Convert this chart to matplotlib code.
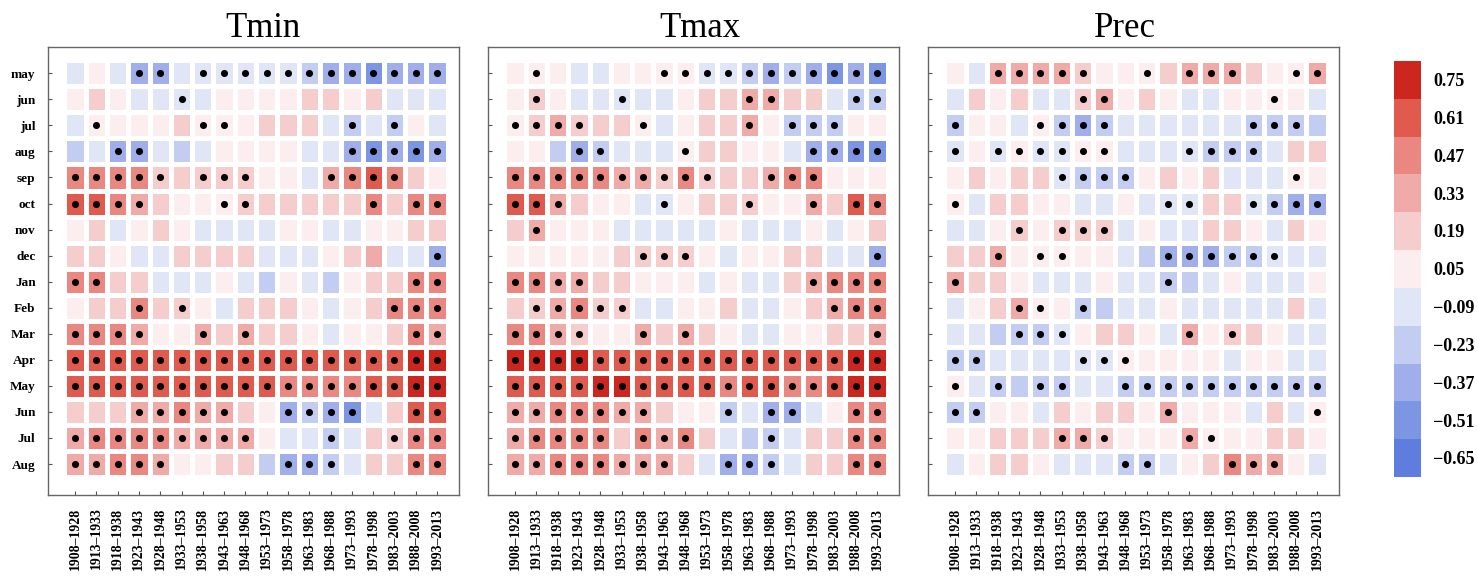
import numpy as np
import matplotlib
matplotlib.use('Agg')
import matplotlib.pyplot as plt
from matplotlib.colors import ListedColormap, BoundaryNorm
from matplotlib.cm import ScalarMappable

months = ['may', 'jun', 'jul', 'aug', 'sep', 'oct', 'nov', 'dec',
          'Jan', 'Feb', 'Mar', 'Apr', 'May', 'Jun', 'Jul', 'Aug']
periods = ['1908–1928', '1913–1933', '1918–1938', '1923–1943', '1928–1948', '1933–1953',
           '1938–1958', '1943–1963', '1948–1968', '1953–1973', '1958–1978', '1963–1983',
           '1968–1988', '1973–1993', '1978–1998', '1983–2003', '1988–2008', '1993–2013']
levels = [-0.65, -0.51, -0.37, -0.23, -0.09, 0.05, 0.19, 0.33, 0.47, 0.61, 0.75]
level_colours = ['#5f7dde', '#7d96e4', '#a0afeb', '#c3cdf2', '#e1e6f6', '#fceeee',
                 '#f6cdcd', '#f0aaa8', '#ea8780', '#e15a4e', '#cd261e']

# correlation values, rows = months (may..Aug), cols = 21-yr windows
tmin = [
    [-0.05, 0.0, -0.09, -0.33, -0.33, -0.09, -0.05, -0.05, -0.09, -0.05, -0.15, -0.2, -0.33, -0.33, -0.45, -0.4, -0.33, -0.35],
    [0.0, 0.19, 0.06, -0.09, -0.12, -0.05, -0.12, 0.02, 0.03, 0.06, 0.08, 0.2, 0.19, 0.1, 0.25, -0.09, -0.09, -0.1],
    [-0.07, 0.1, 0.06, 0.02, 0.08, 0.14, 0.0, 0.03, 0.1, 0.19, 0.17, 0.15, -0.07, -0.25, -0.15, -0.25, 0.0, -0.06],
    [-0.2, -0.08, -0.33, -0.33, -0.12, -0.2, -0.12, 0.02, 0.02, 0.1, 0.08, -0.05, -0.09, -0.33, -0.5, -0.4, -0.52, -0.38],
    [0.45, 0.45, 0.45, 0.42, 0.25, 0.15, 0.22, 0.2, 0.2, 0.08, 0.02, -0.05, 0.3, 0.45, 0.58, 0.42, 0.15, 0.06],
    [0.6, 0.62, 0.45, 0.35, 0.15, 0.02, 0.06, 0.08, 0.2, 0.15, 0.18, 0.25, 0.2, 0.25, 0.45, 0.25, 0.45, 0.45],
    [0.06, 0.15, -0.06, 0.06, 0.2, 0.05, -0.15, -0.15, -0.15, -0.1, 0.0, 0.1, -0.1, -0.07, 0.06, 0.0, 0.15, 0.25],
    [0.2, 0.25, 0.02, -0.04, -0.08, 0.19, 0.19, 0.2, 0.15, -0.05, -0.08, -0.05, 0.05, 0.2, 0.3, -0.08, -0.12, -0.4],
    [0.42, 0.42, 0.25, 0.12, -0.05, -0.12, -0.1, 0.0, -0.09, -0.18, 0.0, -0.09, -0.2, 0.04, 0.2, 0.2, 0.45, 0.45],
    [0.0, 0.15, 0.22, 0.45, 0.15, 0.2, 0.0, -0.06, 0.12, 0.12, 0.2, 0.0, -0.06, 0.04, 0.12, 0.42, 0.45, 0.45],
    [0.42, 0.42, 0.42, 0.38, 0.0, 0.04, 0.38, 0.15, 0.28, 0.15, 0.12, 0.02, -0.05, 0.0, 0.0, 0.15, 0.42, 0.38],
    [0.6, 0.58, 0.6, 0.6, 0.56, 0.56, 0.56, 0.56, 0.56, 0.56, 0.56, 0.56, 0.56, 0.6, 0.6, 0.6, 0.72, 0.7],
    [0.56, 0.58, 0.58, 0.58, 0.62, 0.62, 0.6, 0.58, 0.56, 0.56, 0.45, 0.45, 0.45, 0.45, 0.58, 0.6, 0.75, 0.78],
    [0.15, 0.15, 0.2, 0.35, 0.35, 0.45, 0.38, 0.38, 0.15, 0.0, -0.38, -0.2, -0.33, -0.48, -0.05, 0.12, 0.58, 0.58],
    [0.38, 0.45, 0.5, 0.5, 0.42, 0.38, 0.38, 0.36, 0.36, 0.08, -0.09, -0.15, -0.22, -0.04, 0.15, 0.2, 0.5, 0.5],
    [0.36, 0.36, 0.42, 0.42, 0.3, 0.06, 0.04, 0.15, 0.15, -0.17, -0.42, -0.33, -0.22, -0.05, 0.15, 0.12, 0.45, 0.45],
]
tmax = [
    [0.05, 0.1, 0.02, -0.15, -0.12, 0.02, 0.04, 0.05, 0.0, -0.08, -0.15, -0.2, -0.33, -0.25, -0.42, -0.48, -0.36, -0.52],
    [0.06, 0.25, 0.05, -0.09, -0.04, -0.06, -0.12, -0.1, 0.0, 0.15, 0.15, 0.35, 0.32, 0.12, 0.2, -0.08, -0.25, -0.25],
    [0.06, 0.2, 0.3, 0.25, 0.15, 0.15, 0.03, -0.07, 0.0, 0.15, 0.15, 0.28, 0.05, -0.25, -0.2, -0.2, 0.0, 0.1],
    [0.02, 0.02, -0.2, -0.33, -0.2, -0.15, -0.15, -0.12, 0.1, 0.18, 0.15, 0.06, 0.0, -0.15, -0.36, -0.33, -0.48, -0.45],
    [0.45, 0.45, 0.42, 0.42, 0.42, 0.35, 0.35, 0.25, 0.45, 0.2, 0.15, 0.15, 0.35, 0.42, 0.42, 0.08, 0.02, 0.02],
    [0.6, 0.62, 0.35, 0.25, 0.02, 0.0, -0.06, -0.09, 0.08, 0.12, 0.2, 0.25, 0.1, 0.06, 0.35, 0.25, 0.56, 0.5],
    [0.25, 0.3, 0.04, 0.03, 0.06, -0.07, -0.1, -0.12, -0.15, -0.07, 0.0, -0.06, -0.08, -0.06, 0.03, -0.06, 0.06, 0.2],
    [0.06, 0.07, 0.03, 0.02, 0.02, 0.2, 0.25, 0.25, 0.15, 0.0, -0.04, 0.03, 0.08, 0.15, 0.2, -0.08, -0.15, -0.38],
    [0.42, 0.42, 0.35, 0.3, 0.15, 0.15, 0.08, 0.1, 0.02, -0.12, 0.04, -0.06, -0.09, 0.12, 0.35, 0.42, 0.45, 0.5],
    [0.15, 0.25, 0.3, 0.45, 0.25, 0.25, -0.06, -0.1, 0.02, 0.04, 0.12, -0.09, -0.09, 0.02, 0.12, 0.35, 0.42, 0.45],
    [0.42, 0.42, 0.35, 0.25, 0.0, 0.02, 0.35, 0.15, 0.3, 0.12, 0.1, -0.05, -0.1, 0.0, 0.02, 0.15, 0.18, 0.35],
    [0.75, 0.7, 0.75, 0.75, 0.6, 0.6, 0.6, 0.6, 0.6, 0.6, 0.6, 0.6, 0.6, 0.65, 0.6, 0.6, 0.7, 0.75],
    [0.6, 0.6, 0.65, 0.6, 0.75, 0.75, 0.6, 0.6, 0.6, 0.6, 0.5, 0.56, 0.6, 0.5, 0.5, 0.6, 0.7, 0.78],
    [0.3, 0.35, 0.42, 0.45, 0.45, 0.35, 0.35, 0.15, 0.02, 0.06, -0.25, -0.15, -0.33, -0.42, -0.15, 0.02, 0.45, 0.45],
    [0.35, 0.42, 0.42, 0.42, 0.42, 0.2, 0.42, 0.35, 0.42, 0.15, -0.08, -0.18, -0.25, -0.04, 0.15, 0.18, 0.45, 0.45],
    [0.36, 0.36, 0.42, 0.42, 0.42, 0.36, 0.36, 0.36, 0.15, -0.15, -0.42, -0.36, -0.22, -0.06, 0.15, 0.12, 0.45, 0.45],
]
prec = [
    [0.0, -0.07, 0.35, 0.35, 0.35, 0.3, 0.12, 0.08, 0.06, 0.05, 0.12, 0.28, 0.35, 0.3, 0.12, 0.06, 0.08, 0.3],
    [-0.15, 0.15, 0.1, 0.2, -0.06, -0.03, 0.2, 0.28, 0.06, 0.12, 0.0, -0.04, -0.1, 0.05, 0.04, 0.0, 0.08, -0.12],
    [-0.22, 0.06, 0.02, -0.05, 0.0, -0.18, -0.33, -0.2, -0.15, -0.09, -0.09, -0.1, -0.07, -0.03, -0.18, -0.2, -0.18, -0.2],
    [-0.15, 0.0, -0.06, 0.0, -0.04, -0.06, 0.02, 0.05, -0.15, -0.1, -0.15, -0.15, -0.18, -0.22, -0.18, -0.07, 0.12, 0.2],
    [0.08, 0.12, 0.06, 0.2, 0.2, -0.07, -0.2, -0.2, -0.25, 0.0, 0.2, 0.1, 0.18, -0.05, -0.06, -0.06, 0.05, 0.04],
    [0.0, -0.08, 0.12, 0.15, 0.06, 0.04, -0.08, -0.06, 0.0, -0.15, -0.15, -0.1, 0.15, 0.12, -0.1, -0.2, -0.35, -0.35],
    [-0.15, -0.12, 0.02, 0.2, 0.06, 0.12, 0.25, 0.15, -0.04, -0.02, -0.12, -0.08, 0.2, 0.2, 0.08, -0.07, 0.12, 0.08],
    [0.22, 0.2, 0.3, 0.08, 0.0, 0.02, 0.0, 0.02, -0.04, -0.2, -0.33, -0.36, -0.33, -0.2, -0.2, -0.15, -0.12, -0.06],
    [0.35, 0.2, 0.15, 0.0, -0.12, -0.1, -0.06, 0.06, -0.12, -0.15, -0.3, -0.18, -0.15, 0.0, -0.15, -0.15, -0.08, 0.02],
    [-0.06, 0.08, 0.2, 0.3, 0.0, 0.0, -0.3, -0.18, -0.07, -0.07, -0.02, -0.12, -0.12, -0.08, -0.08, -0.06, 0.2, -0.09],
    [-0.07, -0.12, -0.2, -0.2, -0.25, -0.1, 0.1, 0.18, 0.2, 0.06, -0.03, 0.28, 0.07, 0.15, 0.2, 0.03, -0.05, -0.07],
    [-0.3, -0.25, -0.12, -0.12, -0.12, -0.12, -0.15, -0.15, 0.04, 0.05, 0.02, 0.0, -0.02, -0.04, 0.0, 0.0, -0.04, -0.07],
    [0.02, -0.06, -0.3, -0.2, -0.25, -0.3, -0.15, -0.15, -0.3, -0.25, -0.25, -0.3, -0.3, -0.25, -0.2, -0.25, -0.25, -0.3],
    [-0.3, -0.25, -0.02, 0.0, -0.05, 0.12, 0.1, 0.2, 0.22, 0.08, 0.35, 0.06, 0.07, 0.08, -0.09, 0.12, -0.09, 0.1],
    [0.02, 0.05, 0.15, 0.18, 0.12, 0.3, 0.3, 0.15, 0.06, 0.02, 0.05, 0.28, 0.1, 0.0, 0.1, 0.12, 0.12, 0.06],
    [-0.06, 0.05, 0.22, 0.22, 0.06, -0.05, -0.1, -0.1, -0.25, -0.2, -0.15, 0.0, 0.15, 0.4, 0.3, 0.28, 0.02, -0.1],
]

# significance markers (1 = dot)
tmin_sig = [
    [0,0,0,1,1,0,1,1,1,1,1,1,1,1,1,1,1,1],
    [0,0,0,0,0,1,0,0,0,0,0,0,0,0,0,0,0,0],
    [0,1,0,0,0,0,1,1,0,0,0,0,0,1,0,1,0,0],
    [0,0,1,1,0,0,0,0,0,0,0,0,0,1,1,1,1,1],
    [1,1,1,1,1,0,1,1,1,0,0,0,1,1,1,1,0,0],
    [1,1,1,1,0,0,0,1,1,0,0,0,0,0,1,0,1,1],
    [0,0,0,0,0,0,0,0,0,0,0,0,0,0,0,0,0,0],
    [0,0,0,0,0,0,0,0,0,0,0,0,0,0,0,0,0,1],
    [1,1,0,0,0,0,0,0,0,0,0,0,0,0,0,0,1,1],
    [0,0,0,1,0,1,0,0,0,0,0,0,0,0,0,1,1,1],
    [1,1,1,1,0,0,1,0,1,0,0,0,0,0,0,0,1,1],
    [1,1,1,1,1,1,1,1,1,1,1,1,1,1,1,1,1,1],
    [1,1,1,1,1,1,1,1,1,1,1,1,1,1,1,1,1,1],
    [0,0,0,1,1,1,1,1,0,0,1,1,1,1,0,0,1,1],
    [1,1,1,1,1,1,1,1,1,0,0,0,1,0,0,1,1,1],
    [1,1,1,1,1,0,0,0,0,0,1,1,1,0,0,0,1,1],
]
tmax_sig = [
    [0,1,0,0,0,0,0,1,1,1,1,1,1,1,1,1,1,1],
    [0,1,0,0,0,1,0,0,0,0,0,1,1,0,0,0,1,1],
    [1,1,1,1,0,0,1,0,0,0,0,1,0,1,1,1,0,0],
    [0,0,0,1,1,0,0,0,1,0,0,0,0,0,1,1,1,1],
    [1,1,1,1,1,1,1,1,1,1,0,0,1,1,1,0,0,0],
    [1,1,1,0,0,0,0,1,0,0,0,1,0,0,1,0,1,1],
    [0,1,0,0,0,0,0,0,0,0,0,0,0,0,0,0,0,0],
    [0,0,0,0,0,0,1,1,1,0,0,0,0,0,0,0,0,1],
    [1,1,1,1,0,0,0,0,0,0,0,0,0,0,1,1,1,1],
    [0,1,1,1,1,1,0,0,0,0,0,0,0,0,0,1,1,1],
    [1,1,1,1,0,0,1,0,1,0,0,0,0,0,0,0,0,1],
    [1,1,1,1,1,1,1,1,1,1,1,1,1,1,1,1,1,1],
    [1,1,1,1,1,1,1,1,1,1,1,1,1,1,1,1,1,1],
    [1,1,1,1,1,1,1,0,0,0,1,0,1,1,0,0,1,1],
    [1,1,1,1,1,0,1,1,1,0,0,0,1,0,0,0,1,1],
    [1,1,1,1,1,1,1,1,0,0,1,1,1,0,0,0,1,1],
]
prec_sig = [
    [0,0,1,1,1,1,1,0,0,1,0,1,1,1,0,0,1,1],
    [0,0,0,0,0,0,1,1,0,0,0,0,0,0,0,1,0,0],
    [1,0,0,0,1,1,1,1,0,0,0,0,0,0,1,1,1,0],
    [1,0,1,1,1,1,1,1,0,0,0,1,1,1,1,0,0,0],
    [0,0,0,0,0,1,1,1,1,0,0,0,0,0,0,0,1,0],
    [1,0,0,0,0,0,0,0,0,0,1,1,0,0,1,1,1,1],
    [0,0,0,1,0,1,1,1,0,0,0,0,0,0,0,0,0,0],
    [0,0,1,0,1,1,0,0,0,0,1,1,1,1,1,1,0,0],
    [1,0,0,0,0,0,0,0,0,0,1,0,0,0,0,0,0,0],
    [0,0,0,1,1,0,1,0,0,0,0,0,0,0,0,0,0,0],
    [0,0,0,1,1,1,0,0,0,0,0,1,0,1,0,0,0,0],
    [1,1,0,0,0,0,1,1,1,0,0,0,0,0,0,0,0,0],
    [1,0,1,0,1,1,0,0,1,1,1,1,1,1,1,1,1,1],
    [1,1,0,0,0,0,0,0,0,0,1,0,0,0,0,0,0,1],
    [0,0,0,0,0,1,1,1,0,0,0,1,1,0,0,0,0,0],
    [0,0,0,0,0,0,0,0,1,1,0,0,0,1,1,1,0,0],
]

panels = [('Tmin', tmin, tmin_sig), ('Tmax', tmax, tmax_sig), ('Prec', prec, prec_sig)]
title_x = [263, 700, 1125]

serif = 'Liberation Serif'
cmap = ListedColormap(level_colours)
bounds = np.round(np.arange(-0.72, 0.83, 0.14), 2) - 0.001
norm = BoundaryNorm(bounds, cmap.N)

W, H = 1478, 576
fig = plt.figure(figsize=(W / 100, H / 100), dpi=100)


def px_axes(l, t, r, b):
    return fig.add_axes([l / W, 1 - b / H, (r - l) / W, (b - t) / H])


for i, (name, vals, sig) in enumerate(panels):
    left = 48 + 440 * i
    ax = px_axes(left, 47, left + 411, 495)
    v = np.array(vals)
    s = np.array(sig)
    ax.pcolormesh(np.arange(19) - 0.5, np.arange(17) - 0.5, v, cmap=cmap, norm=norm,
                  edgecolors='white', linewidth=2.2)
    rr, cc = np.nonzero(s)
    ax.scatter(cc, rr, s=26, c='k', zorder=3, linewidths=0)
    ax.set_xlim(-1.27, 18.03)
    ax.set_ylim(16.19, -1.01)
    ax.set_xticks(range(len(periods)))
    ax.set_xticklabels(periods, rotation=90, fontsize=10, family=serif, fontweight='bold')
    ax.set_yticks(range(len(months)))
    if i == 0:
        ax.set_yticklabels(months, fontsize=9.5, family=serif, fontweight='bold')
    else:
        ax.set_yticklabels([])
    ax.tick_params(axis='y', direction='in', length=3, width=0.8, color='#555555', pad=9)
    ax.tick_params(axis='x', direction='in', length=3, width=0.8, color='#555555', pad=9)
    for sp in ax.spines.values():
        sp.set_color('#666666')
        sp.set_linewidth(1.0)
    fig.text(title_x[i] / W, 1 - 37 / H, name, ha='center', va='baseline',
             fontsize=25, family=serif)

cax = px_axes(1394, 61, 1421, 477)
cb = fig.colorbar(ScalarMappable(norm=norm, cmap=cmap), cax=cax, ticks=levels)
cb.outline.set_visible(False)
cb.ax.minorticks_off()
cb.ax.tick_params(length=0, pad=9)
cb.ax.set_yticklabels([f'{lv:.2f}'.replace('-', '\u2212') for lv in levels],
                      fontsize=13, family=serif, fontweight='bold')

fig.savefig('out.png', dpi=100)
